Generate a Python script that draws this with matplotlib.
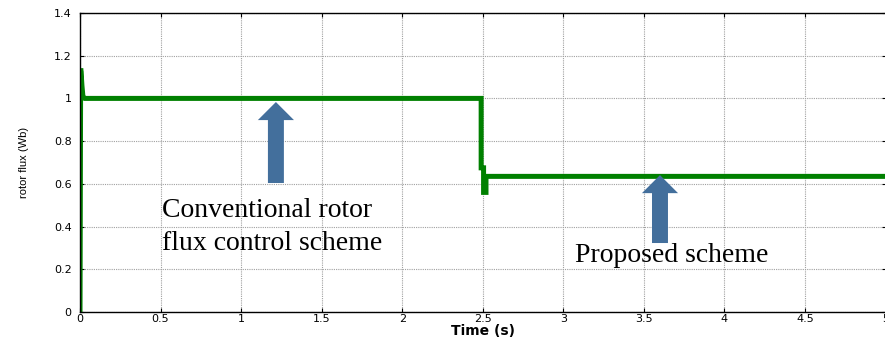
"""Rotor flux response: conventional vs proposed scheme."""

import matplotlib

matplotlib.use("Agg")
import matplotlib.pyplot as plt
from matplotlib.patches import FancyArrowPatch

# rotor flux trace (time in s, flux in Wb)
time_s = [0.0, 0.004, 0.006, 0.012, 0.018, 0.03, 2.49, 2.49, 2.505, 2.505, 2.52, 2.52, 5.0]
flux_wb = [0.0, 1.13, 1.13, 1.06, 1.01, 1.0, 1.0, 0.675, 0.675, 0.56, 0.56, 0.635, 0.635]

xticks = [0, 0.5, 1, 1.5, 2, 2.5, 3, 3.5, 4, 4.5, 5]
yticks = [0, 0.2, 0.4, 0.6, 0.8, 1, 1.2, 1.4]
xtick_labels = ["0", "0.5", "1", "1.5", "2", "2.5", "3", "3.5", "4", "4.5", "5"]
ytick_labels = ["0", "0.2", "0.4", "0.6", "0.8", "1", "1.2", "1.4"]

# annotation arrows: (x, y_tail, y_tip)
arrows = [(1.216, 0.604, 0.983), (3.60, 0.323, 0.641)]
notes = ["Conventional rotor\nflux control scheme", "Proposed scheme"]

fig = plt.figure(figsize=(8.85, 3.41), dpi=100)
ax = fig.add_axes([0.0904, 0.085, 0.9102, 0.877])

ax.plot(time_s, flux_wb, color="#008000", lw=3.6, solid_joinstyle="miter")

ax.set_xlim(0, 5)
ax.set_ylim(0, 1.4)
ax.set_xticks(xticks)
ax.set_xticklabels(xtick_labels)
ax.set_yticks(yticks)
ax.set_yticklabels(ytick_labels)
ax.grid(True, color="#a0a0a0", linestyle=(0, (1, 1)), lw=0.8)
ax.tick_params(direction="in", top=True, right=True, length=3,
               labelsize=8, pad=1.5)
ax.tick_params(axis="y", pad=6)
for sp in ax.spines.values():
    sp.set_linewidth(1.0)

ax.set_xlabel("Time (s)", fontsize=10, fontweight="bold", labelpad=0)
ax.set_ylabel("rotor flux (Wb)", fontsize=8, family="Liberation Sans", labelpad=18)

for x, y0, y1 in arrows:
    arr = FancyArrowPatch(
        (x, y0), (x, y1),
        arrowstyle="simple,head_length=13,head_width=26,tail_width=11.5",
        mutation_scale=1, shrinkA=0, shrinkB=0,
        color="#436f9c", lw=0, zorder=4,
    )
    ax.add_patch(arr)

ax.text(0.512, 0.29, notes[0], family="Liberation Serif", fontsize=20,
        va="baseline", ha="left", linespacing=1.41)
ax.text(3.074, 0.234, notes[1], family="Liberation Serif", fontsize=20,
        va="baseline", ha="left")

fig.savefig("out.png", dpi=100)
